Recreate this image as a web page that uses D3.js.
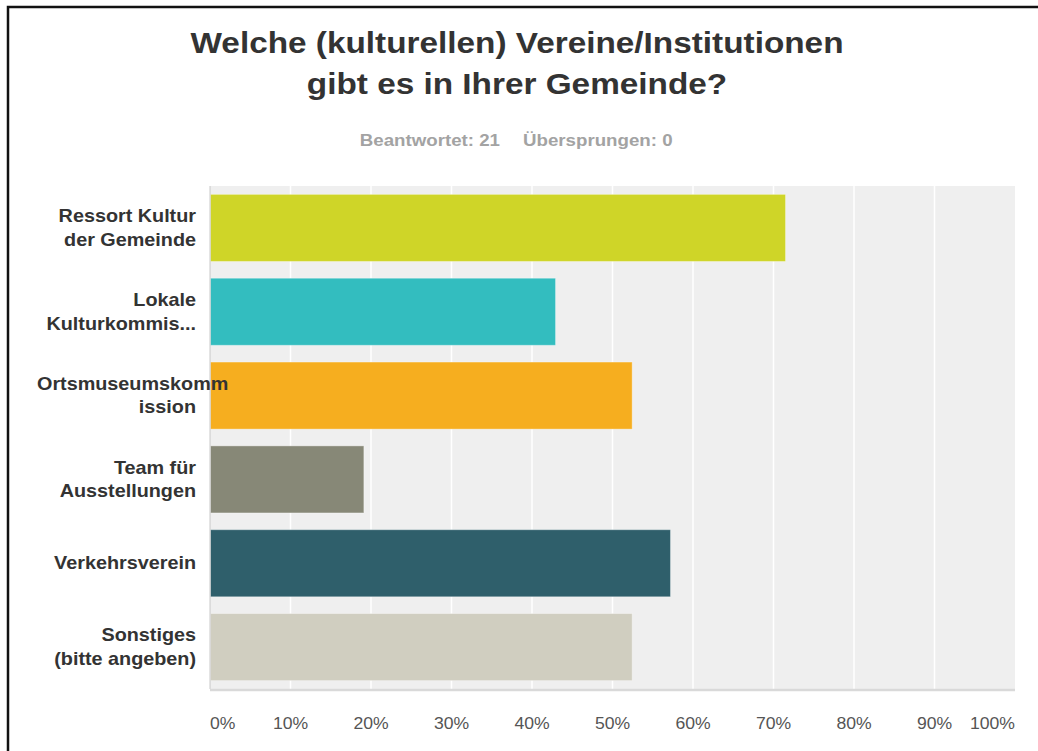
<!DOCTYPE html>
<html>
<head>
<meta charset="utf-8">
<script src="https://cdn.jsdelivr.net/npm/d3@7"></script>
<style>
  html, body { margin:0; padding:0; background:#fff; }
  text { font-family: "Liberation Sans", Arial, sans-serif; }
</style>
</head>
<body>
<div id="chart"></div>
<script>
// survey answers, 21 respondents -> shares in percent
const categories = [
  ["Ressort Kultur", "der Gemeinde"],
  ["Lokale", "Kulturkommis..."],
  ["Ortsmuseumskomm", "ission"],
  ["Team für", "Ausstellungen"],
  ["Verkehrsverein"],
  ["Sonstiges", "(bitte angeben)"]
];
const values = [71.43, 42.86, 52.38, 19.05, 57.14, 52.38];
const colors = ["#cfd528", "#33bdbf", "#f6ae1f", "#878877", "#2f5f6b", "#d0cec0"];
const ticks = [0, 10, 20, 30, 40, 50, 60, 70, 80, 90, 100];
const titleLines = ["Welche (kulturellen) Vereine/Institutionen", "gibt es in Ihrer Gemeinde?"];
const subtitle = ["Beantwortet: 21", "Übersprungen: 0"];

const W = 1038, H = 751;
const plot = { left:210, right:1015, top:186, bottom:689 };
const sx = 1.1; // the screenshot text is a bit wider than plain Arial

const svg = d3.select("#chart").append("svg").attr("width", W).attr("height", H);

// put a text at (x,y) with the horizontal stretch
function txt(g, x, y, s) {
  return g.append("text")
    .attr("transform", `translate(${x},${y}) scale(${sx},1)`)
    .text(s);
}

// frame (only top and left are visible in the capture)
svg.append("path")
  .attr("d", `M8,${H} L8,7 L${W},7`)
  .attr("fill", "none").attr("stroke", "#111").attr("stroke-width", 2.5);

// title + subtitle
titleLines.forEach((t, i) => {
  txt(svg, 517, 53 + i*41, t)
    .attr("text-anchor", "middle").attr("font-size", 30.3).attr("font-weight", "bold").attr("fill", "#333");
});
txt(svg, 500, 146, subtitle[0]).attr("text-anchor", "end")
  .attr("font-size", 17).attr("font-weight", "bold").attr("fill", "#a3a3a3");
txt(svg, 523, 146, subtitle[1]).attr("text-anchor", "start")
  .attr("font-size", 17).attr("font-weight", "bold").attr("fill", "#a3a3a3");

const x = d3.scaleLinear().domain([0, 100]).range([plot.left, plot.right]);
const y = d3.scaleBand().domain(d3.range(values.length)).range([plot.top, plot.bottom]).paddingInner(0.2).paddingOuter(0.1);

// plot background
svg.append("rect")
  .attr("x", plot.left).attr("y", plot.top)
  .attr("width", plot.right - plot.left).attr("height", plot.bottom - plot.top)
  .attr("fill", "#efefef");

// white vertical grid
svg.selectAll("line.grid")
  .data(ticks.slice(1, -1)).enter().append("line")
  .attr("class", "grid")
  .attr("x1", d => x(d)).attr("x2", d => x(d))
  .attr("y1", plot.top).attr("y2", plot.bottom)
  .attr("stroke", "#fff").attr("stroke-width", 1.5);

// bars
svg.selectAll("rect.bar")
  .data(values).enter().append("rect")
  .attr("class", "bar")
  .attr("x", x(0) + 0.5)
  .attr("y", (d, i) => y(i))
  .attr("width", d => x(d) - x(0))
  .attr("height", y.bandwidth())
  .attr("fill", (d, i) => colors[i])
  .attr("stroke", "#fff").attr("stroke-opacity", 0.35);

// axis lines
svg.append("line")
  .attr("x1", plot.left).attr("x2", plot.left).attr("y1", plot.top).attr("y2", plot.bottom)
  .attr("stroke", "#c8c8c8");
svg.append("line")
  .attr("x1", plot.left).attr("x2", plot.right).attr("y1", plot.bottom + 1).attr("y2", plot.bottom + 1)
  .attr("stroke", "#d9d9d9").attr("stroke-width", 2.5);

// x tick labels; the outer two are kept inside the plot width
ticks.forEach((t, i) => {
  const anchor = i === 0 ? "start" : (i === ticks.length - 1 ? "end" : "middle");
  txt(svg, x(t), 729, t + "%")
    .attr("text-anchor", anchor).attr("font-size", 16).attr("fill", "#555");
});

// category labels, right aligned in a box from 37 to 196; too long words overflow to the right
const boxL = 37, boxR = 196, lineH = 23.5;
categories.forEach((lines, i) => {
  const cy = y(i) + y.bandwidth() / 2;
  lines.forEach((s, j) => {
    const yy = cy + 6 - (lines.length - 1) * lineH / 2 + j * lineH;
    const t = txt(svg, boxR, yy, s)
      .attr("text-anchor", "end").attr("font-size", 18).attr("font-weight", "bold").attr("fill", "#333");
    const wdt = t.node().getComputedTextLength() * sx;
    if (wdt > boxR - boxL) {
      t.attr("text-anchor", "start").attr("transform", `translate(${boxL},${yy}) scale(${sx},1)`);
    }
  });
});
</script>
</body>
</html>
